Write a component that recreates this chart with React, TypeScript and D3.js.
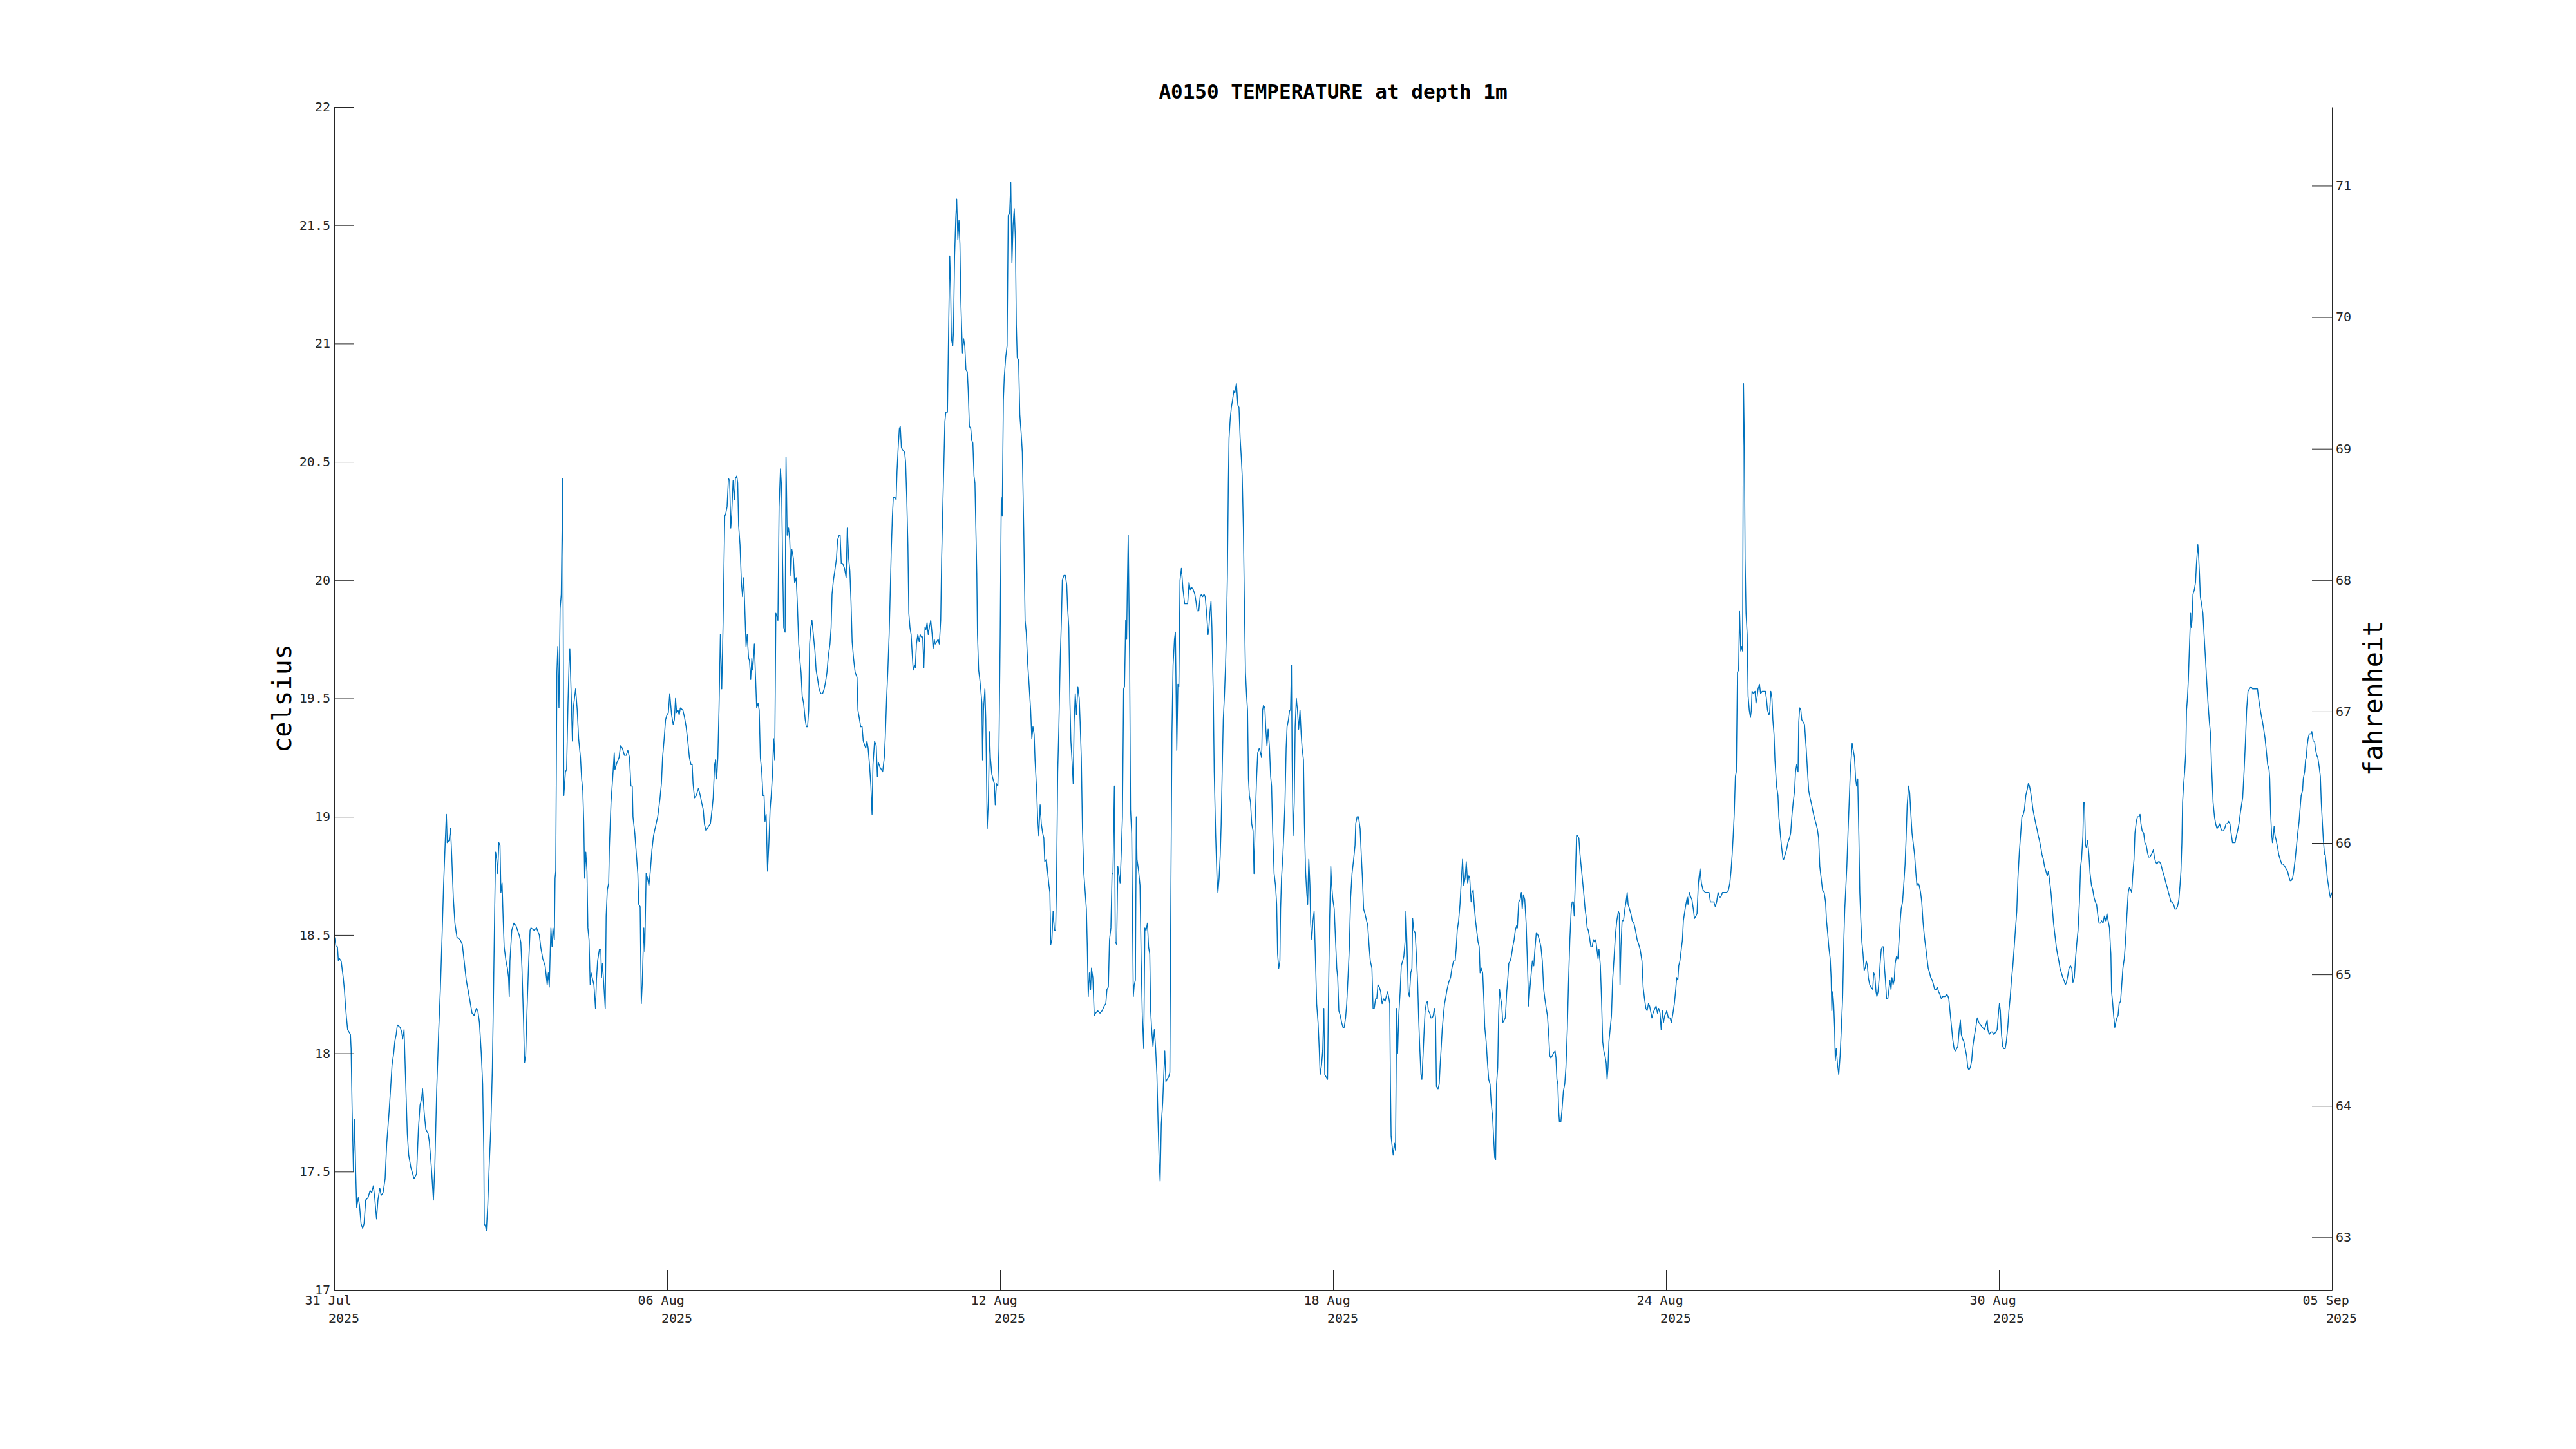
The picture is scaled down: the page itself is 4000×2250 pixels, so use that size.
import React, { useEffect, useRef } from "react";
import * as d3 from "d3";

// time axis runs from 31 Jul 2025 00:00 UTC to 05 Sep 2025 00:00 UTC
const START = Date.UTC(2025, 6, 31);
const END = Date.UTC(2025, 8, 5);

// readings: [hours since 31 Jul 00:00, temperature in celsius]
const jul31toAug03: [number, number][] = [
  [0.2,18.49],[0.8,18.45],[1.4,18.45],[1.8,18.39],[2.3,18.40],[3.0,18.39],[3.9,18.32],[4.4,18.27],[4.8,18.21],[5.3,18.15],
  [5.8,18.10],[6.4,18.09],[7.0,18.08],[7.3,18.02],[7.7,17.78],[8.3,17.50],[8.8,17.72],[9.3,17.49],[9.7,17.35],[10.4,17.39],
  [10.9,17.36],[11.6,17.28],[12.3,17.26],[12.9,17.28],[13.6,17.38],[14.6,17.39],[15.5,17.42],[16.2,17.41],[16.9,17.44],[17.5,17.39],
  [18.3,17.30],[18.9,17.38],[19.7,17.43],[20.3,17.40],[21.1,17.41],[22.0,17.47],[22.7,17.62],[23.7,17.75],[24.3,17.84],[25.0,17.95],
  [25.7,18.00],[26.2,18.05],[26.8,18.08],[27.3,18.12],[28.5,18.11],[29.2,18.09],[29.6,18.06],[30.2,18.10],[30.8,17.91],[31.6,17.66],
  [32.2,17.57],[33.1,17.52],[34.5,17.47],[35.6,17.49],[36.4,17.68],[37.1,17.78],[37.8,17.81],[38.2,17.85],[38.9,17.75],[39.6,17.68],
  [40.6,17.66],[41.1,17.63],[42.0,17.52],[42.9,17.38],[43.5,17.52],[44.3,17.84],[45.2,18.10],[45.9,18.27],[46.6,18.48],[47.3,18.71],
  [48.0,18.89],[48.5,19.01],[48.9,18.89],[49.7,18.90],[50.3,18.95],[50.8,18.84],[51.5,18.66],[52.2,18.55],[53.1,18.49],[54.5,18.48],
  [55.4,18.46],[56.2,18.39],[57.1,18.31],[58.2,18.25],[58.9,18.21],[59.6,18.17],[60.5,18.16],[61.5,18.19],[62.1,18.18],[62.8,18.13],
  [63.6,18.00],[64.2,17.87],[64.7,17.58],[64.9,17.28],[65.4,17.27],[65.8,17.25],[66.4,17.36],[67.0,17.52],[67.7,17.68],[68.4,17.94],
  [68.9,18.26],[69.4,18.61],[69.8,18.85],[70.3,18.82],[70.7,18.76],[71.2,18.89],[71.7,18.88],[72.1,18.68],[72.6,18.72],[73.1,18.56],
  [73.5,18.45],[74.3,18.39],[74.9,18.36],[75.4,18.32],[75.7,18.24],[76.0,18.39],[76.8,18.52],[77.7,18.55],[78.6,18.54],[80.0,18.50],
  [80.7,18.47],[81.2,18.36],[81.9,18.13],[82.3,17.96],[82.8,17.99],[83.3,18.16],[84.0,18.36],[84.7,18.52],[85.1,18.53],[86.5,18.52],
  [87.5,18.53],[88.7,18.50],[89.3,18.45],[90.2,18.40],[91.2,18.37],[92.1,18.29],[92.6,18.34],[93.0,18.28],[93.7,18.53],[94.2,18.45],
  [94.6,18.53],[95.2,18.48],[95.5,18.74],
];

const aug04toAug07: [number, number][] = [
  [95.8,18.77],[96.3,19.61],[96.7,19.72],[97.2,19.46],[97.7,19.88],[98.2,19.94],[98.8,20.43],[99.3,19.09],[100.0,19.19],[100.5,19.20],
  [101.1,19.48],[101.6,19.66],[101.9,19.71],[102.5,19.51],[103.0,19.32],[103.4,19.46],[104.4,19.54],[105.1,19.45],[105.7,19.33],[106.5,19.25],
  [107.0,19.16],[107.5,19.11],[107.9,18.98],[108.3,18.74],[108.8,18.85],[109.3,18.77],[109.7,18.53],[110.2,18.48],[110.7,18.29],[111.1,18.34],
  [111.8,18.31],[112.3,18.29],[113.0,18.19],[113.4,18.31],[113.9,18.39],[114.7,18.44],[115.3,18.44],[115.6,18.32],[116.0,18.38],[116.4,18.32],
  [117.2,18.19],[117.6,18.58],[118.1,18.69],[118.7,18.72],[119.0,18.87],[119.7,19.06],[120.4,19.16],[121.1,19.27],[121.4,19.20],[122.3,19.23],
  [123.2,19.25],[123.8,19.30],[124.6,19.29],[125.5,19.26],[126.3,19.26],[127.0,19.28],[127.7,19.25],[128.3,19.13],[128.9,19.13],[129.2,19.00],
  [130.0,18.93],[130.6,18.85],[131.3,18.76],[131.7,18.63],[132.3,18.62],[132.8,18.21],[133.2,18.29],[133.9,18.53],[134.3,18.43],[134.9,18.76],
  [135.5,18.74],[136.1,18.71],[136.7,18.77],[137.4,18.86],[138.1,18.92],[139.0,18.96],[139.9,19.00],[140.8,19.07],[141.5,19.14],[142.0,19.25],
  [142.7,19.33],[143.3,19.41],[143.9,19.43],[144.5,19.44],[145.1,19.52],[145.9,19.43],[146.6,19.39],[147.1,19.41],[147.6,19.50],[148.1,19.44],
  [148.7,19.45],[149.2,19.43],[149.7,19.46],[150.8,19.45],[151.5,19.42],[152.2,19.38],[152.9,19.32],[153.6,19.25],[154.3,19.22],[154.8,19.22],
  [155.2,19.14],[155.8,19.08],[156.6,19.09],[157.5,19.12],[158.3,19.09],[158.9,19.06],[159.6,19.03],[160.1,18.97],[160.8,18.94],[161.9,18.96],
  [162.7,18.97],[163.4,19.03],[163.9,19.08],[164.5,19.22],[165.0,19.24],[165.4,19.16],[165.9,19.25],[166.4,19.45],[167.0,19.77],[167.6,19.54],
  [168.2,19.83],[168.9,20.27],[169.3,20.28],[169.9,20.31],[170.5,20.43],[171.0,20.42],[171.5,20.22],[171.9,20.28],[172.5,20.42],[173.1,20.34],
  [173.5,20.43],[174.1,20.44],[174.5,20.41],[174.9,20.23],[175.5,20.15],[176.1,19.99],[176.6,19.93],[177.1,20.01],[177.5,19.90],[178.1,19.72],
  [178.6,19.77],[179.2,19.67],[179.6,19.66],[180.1,19.58],[180.6,19.67],[181.0,19.62],[181.7,19.73],[182.1,19.62],[182.7,19.46],[183.3,19.48],
  [183.8,19.45],[184.3,19.25],[184.9,19.19],[185.4,19.09],[185.9,19.09],[186.3,18.98],[186.8,19.01],[187.4,18.77],[188.0,18.89],[188.5,19.03],
  [189.0,19.09],[189.6,19.19],[190.0,19.33],[190.5,19.24],[191.0,19.86],[191.4,19.85],[191.9,19.83],
];

const aug08toAug11: [number, number][] = [
  [192.4,20.31],[193.0,20.47],[193.5,20.39],[193.9,20.09],[194.4,19.80],[195.0,19.78],[195.4,20.52],[195.9,20.19],[196.5,20.22],[197.0,20.17],
  [197.5,20.02],[197.9,20.13],[198.6,20.09],[199.1,19.99],[199.8,20.01],[200.3,19.90],[200.9,19.73],[201.5,19.65],[201.9,19.61],[202.4,19.51],
  [203.0,19.48],[203.7,19.41],[204.2,19.38],[204.7,19.38],[205.2,19.45],[205.6,19.73],[206.1,19.80],[206.6,19.83],[207.2,19.77],[207.9,19.70],
  [208.4,19.62],[209.1,19.58],[209.7,19.54],[210.5,19.52],[211.2,19.52],[211.9,19.54],[212.5,19.57],[213.1,19.61],[213.7,19.68],[214.4,19.73],
  [214.9,19.80],[215.3,19.94],[215.9,20.00],[216.5,20.04],[217.2,20.09],[217.7,20.17],[218.4,20.19],[218.8,20.19],[219.3,20.07],[219.9,20.07],
  [220.7,20.05],[221.4,20.01],[221.9,20.22],[222.5,20.09],[223.0,20.04],[223.5,19.91],[224.0,19.74],[224.6,19.67],[225.3,19.61],[226.1,19.59],
  [226.5,19.45],[227.2,19.41],[227.7,19.38],[228.3,19.38],[228.8,19.32],[229.5,19.30],[229.9,19.29],[230.4,19.32],[230.9,19.29],[231.5,19.22],
  [232.1,19.13],[232.6,19.01],[233.0,19.22],[233.7,19.32],[234.4,19.30],[234.9,19.17],[235.3,19.23],[236.0,19.21],[236.6,19.20],[237.2,19.19],
  [237.9,19.25],[238.3,19.33],[238.9,19.50],[239.4,19.61],[240.0,19.77],[240.5,19.96],[240.9,20.12],[241.4,20.27],[241.8,20.35],[242.5,20.35],
  [243.0,20.34],[243.4,20.46],[243.9,20.56],[244.4,20.64],[244.8,20.65],[245.3,20.56],[245.9,20.55],[246.7,20.54],[247.1,20.50],[247.6,20.35],
  [248.1,20.15],[248.5,19.86],[249.0,19.80],[249.5,19.77],[249.9,19.70],[250.4,19.62],[250.9,19.64],[251.3,19.63],[251.8,19.73],[252.4,19.77],
  [253.0,19.74],[253.4,19.77],[253.9,19.76],[254.5,19.76],[255.0,19.63],[255.5,19.80],[255.9,19.79],[256.4,19.82],[256.9,19.77],[257.4,19.80],
  [258.0,19.83],[258.6,19.77],[259.0,19.71],[259.5,19.75],[259.9,19.73],[260.6,19.74],[261.2,19.75],[261.7,19.73],[262.3,19.83],[262.7,20.09],
  [263.2,20.31],[263.7,20.51],[264.1,20.67],[264.5,20.71],[265.2,20.71],[265.7,21.05],[266.2,21.37],[266.6,21.23],[266.9,21.02],[267.5,20.99],
  [267.8,21.05],[268.3,21.37],[268.8,21.53],[269.2,21.61],[269.7,21.44],[270.2,21.52],[270.6,21.42],[271.0,21.18],[271.4,21.05],[271.7,20.96],
  [272.2,21.02],[272.7,20.99],[273.2,20.89],[273.8,20.88],[274.2,20.80],[274.7,20.65],[275.3,20.64],[275.7,20.59],[276.2,20.58],[276.7,20.44],
  [277.1,20.41],[277.5,20.22],[277.9,20.03],[278.2,19.77],[278.7,19.62],[279.2,19.58],[279.6,19.54],[280.1,19.48],[280.4,19.24],[280.8,19.45],
  [281.4,19.54],[281.8,19.41],[282.1,19.19],[282.4,18.95],[282.9,19.06],[283.4,19.36],[283.8,19.25],[284.4,19.18],[284.9,19.16],[285.5,19.14],
  [285.9,19.05],[286.4,19.14],[287.0,19.13],[287.5,19.29],[288.0,19.74],
];

const aug12toAug15: [number, number][] = [
  [288.5,20.35],[288.9,20.27],[289.4,20.76],[289.8,20.86],[290.4,20.94],[291.0,20.99],[291.5,21.54],[292.1,21.55],[292.6,21.68],[293.1,21.34],
  [293.6,21.50],[294.1,21.57],[294.6,21.44],[295.0,21.08],[295.4,20.94],[296.0,20.93],[296.5,20.70],[297.1,20.62],[297.6,20.54],[298.2,20.22],
  [298.8,19.83],[299.3,19.78],[299.9,19.65],[300.5,19.56],[301.2,19.45],[301.7,19.33],[302.2,19.38],[302.7,19.35],[303.1,19.24],[303.8,19.11],
  [304.2,19.00],[304.7,18.92],[305.3,19.05],[305.8,18.97],[306.4,18.93],[306.9,18.91],[307.3,18.81],[308.0,18.82],[308.5,18.77],[309.1,18.71],
  [309.5,18.68],[309.9,18.46],[310.4,18.48],[310.9,18.60],[311.5,18.52],[312.0,18.52],[312.4,18.72],[312.9,19.19],[313.4,19.38],[314.0,19.67],
  [314.5,19.83],[314.9,20.00],[315.6,20.02],[316.2,20.02],[316.8,19.98],[317.2,19.88],[317.7,19.80],[318.2,19.48],[318.6,19.32],[319.2,19.22],
  [319.6,19.14],[320.0,19.40],[320.5,19.52],[321.0,19.43],[321.6,19.55],[322.2,19.50],[322.6,19.40],[323.1,19.25],[323.6,18.95],[324.2,18.76],
  [324.8,18.68],[325.3,18.61],[325.7,18.45],[326.1,18.24],[326.6,18.34],[327.1,18.27],[327.5,18.36],[328.1,18.32],[328.7,18.16],[329.3,18.17],
  [330.2,18.18],[331.2,18.17],[332.1,18.18],[333.0,18.20],[333.7,18.21],[334.2,18.27],[334.8,18.28],[335.3,18.48],[335.9,18.53],[336.4,18.76],
  [336.8,18.76],[337.4,19.13],[337.8,18.47],[338.4,18.46],[338.9,18.79],[339.3,18.76],[339.9,18.72],[340.4,18.85],[340.9,19.00],[341.4,19.54],
  [341.8,19.55],[342.3,19.83],[342.7,19.75],[343.0,19.96],[343.4,20.19],[344.0,19.67],[344.4,19.03],[344.9,18.93],[345.3,18.53],[345.6,18.24],
  [346.0,18.29],[346.5,18.31],[346.9,19.00],[347.2,18.82],[347.9,18.77],[348.5,18.71],[349.0,18.39],[349.5,18.16],[350.1,18.02],[350.6,18.53],
  [351.1,18.52],[351.7,18.55],[352.2,18.45],[352.7,18.42],[353.1,18.18],[353.6,18.09],[354.1,18.03],[354.7,18.10],[355.2,18.03],[355.8,17.91],
  [356.3,17.71],[356.8,17.54],[357.2,17.46],[357.7,17.70],[358.3,17.79],[358.7,17.89],[359.2,18.01],[359.7,17.88],[360.2,17.89],[360.9,17.90],
  [361.4,17.92],[361.8,18.61],[362.3,19.35],[362.8,19.64],[363.4,19.75],[363.8,19.78],[364.4,19.28],[364.9,19.56],[365.3,19.55],[365.8,20.00],
  [366.4,20.05],[367.1,19.96],[367.8,19.90],[368.6,19.90],[369.1,19.90],[369.7,19.99],[370.2,19.96],[370.8,19.97],[371.5,19.96],[372.2,19.94],
  [372.7,19.91],[373.2,19.87],[373.9,19.87],[374.5,19.93],[375.1,19.94],[375.6,19.93],[376.2,19.94],[376.7,19.93],[377.3,19.86],[377.9,19.77],
  [378.3,19.80],[378.8,19.87],[379.2,19.91],[379.6,19.80],[380.2,19.51],[380.6,19.19],[381.2,18.93],[381.8,18.74],[382.2,18.68],[382.7,18.74],
  [383.2,18.84],[383.6,18.97],[384.1,19.22],
];

const aug16toAug19: [number, number][] = [
  [384.5,19.41],[385.0,19.51],[385.5,19.64],[385.9,19.80],[386.3,20.03],[386.7,20.41],[387.0,20.60],[387.5,20.68],[388.0,20.73],[388.5,20.76],
  [389.1,20.80],[389.5,20.79],[389.8,20.81],[390.2,20.83],[390.8,20.74],[391.3,20.73],[391.8,20.60],[392.3,20.52],[392.7,20.44],[393.2,20.22],
  [393.6,19.93],[394.1,19.61],[394.6,19.51],[395.0,19.45],[395.4,19.16],[395.8,19.09],[396.3,19.06],[396.8,18.97],[397.4,18.94],[397.8,18.76],
  [398.3,18.98],[398.9,19.16],[399.4,19.27],[400.1,19.29],[400.6,19.27],[401.1,19.25],[401.5,19.45],[401.9,19.47],[402.5,19.46],[402.9,19.37],
  [403.4,19.30],[403.9,19.37],[404.5,19.29],[405.0,19.17],[405.4,19.13],[405.9,18.93],[406.5,18.76],[407.1,18.71],[407.6,18.63],[408.0,18.42],
  [408.5,18.36],[409.0,18.39],[409.3,18.61],[409.7,18.74],[410.3,18.84],[410.7,18.93],[411.2,19.06],[411.7,19.29],[412.1,19.38],[412.7,19.41],
  [413.2,19.45],[413.6,19.45],[414.0,19.64],[414.3,19.24],[414.7,18.92],[415.2,19.06],[415.6,19.38],[416.1,19.50],[416.6,19.45],[417.1,19.37],
  [417.7,19.45],[418.2,19.35],[418.6,19.29],[419.2,19.24],[419.6,18.97],[420.1,18.77],[420.6,18.68],[421.0,18.63],[421.5,18.82],[422.0,18.71],
  [422.3,18.55],[422.8,18.48],[423.3,18.56],[423.8,18.60],[424.4,18.39],[424.9,18.21],[425.5,18.13],[426.0,18.02],[426.4,17.91],[427.0,17.95],
  [427.5,18.01],[428.0,18.19],[428.4,17.91],[429.0,17.90],[429.6,17.89],[430.0,18.23],[430.5,18.56],[431.0,18.79],[431.4,18.71],[431.9,18.65],
  [432.5,18.61],[433.1,18.47],[433.6,18.36],[434.0,18.32],[434.5,18.18],[435.1,18.16],[435.7,18.13],[436.3,18.11],[436.8,18.11],[437.4,18.15],
  [437.9,18.21],[438.5,18.33],[439.0,18.44],[439.6,18.66],[440.2,18.76],[440.9,18.82],[441.5,18.88],[441.8,18.97],[442.4,19.00],[443.0,19.00],
  [443.7,18.95],[444.2,18.84],[444.7,18.74],[445.2,18.61],[445.8,18.59],[446.5,18.56],[447.0,18.54],[447.6,18.45],[448.1,18.39],[448.8,18.36],
  [449.3,18.19],[449.8,18.19],[450.4,18.23],[450.9,18.23],[451.4,18.29],[452.0,18.28],[452.6,18.26],[453.2,18.21],[453.9,18.23],[454.5,18.22],
  [455.0,18.24],[455.6,18.26],[456.0,18.24],[456.5,18.21],[456.8,17.87],[457.1,17.65],[457.4,17.62],[458.0,17.57],[458.5,17.62],[459.0,17.59],
  [459.5,18.19],[459.9,18.00],[460.4,18.16],[461.0,18.26],[461.5,18.37],[462.1,18.39],[462.6,18.41],[463.2,18.48],[463.5,18.60],[463.9,18.48],
  [464.5,18.26],[465.0,18.24],[465.6,18.34],[466.1,18.36],[466.4,18.57],[466.9,18.52],[467.5,18.51],[468.0,18.42],[468.6,18.29],[469.0,18.15],
  [469.5,18.02],[470.0,17.91],[470.4,17.89],[470.9,17.99],[471.4,18.10],[471.8,18.18],[472.3,18.21],[472.8,18.22],[473.2,18.18],[473.8,18.17],
  [474.3,18.15],[474.9,18.15],[475.3,18.16],[475.8,18.19],[476.3,18.15],[476.7,17.86],[477.4,17.85],[477.9,17.87],[478.3,17.95],[478.8,18.03],
  [479.2,18.10],[479.7,18.16],[480.2,18.21],
];

const aug20toAug23: [number, number][] = [
  [480.6,18.23],[481.3,18.27],[482.0,18.30],[482.8,18.32],[483.4,18.36],[484.1,18.39],[484.8,18.39],[485.3,18.45],[485.7,18.52],[486.3,18.56],
  [486.9,18.63],[487.4,18.72],[488.0,18.82],[488.5,18.71],[489.1,18.74],[489.6,18.81],[490.2,18.72],[490.7,18.75],[491.1,18.74],[491.7,18.64],
  [492.1,18.68],[492.6,18.69],[493.0,18.63],[493.6,18.56],[494.1,18.52],[494.7,18.47],[495.2,18.45],[495.6,18.34],[496.1,18.36],[496.7,18.34],
  [497.2,18.23],[497.6,18.11],[498.2,18.05],[498.7,17.97],[499.3,17.89],[499.9,17.87],[500.4,17.79],[501.0,17.73],[501.5,17.63],[501.9,17.56],
  [502.3,17.55],[502.7,17.87],[503.2,17.94],[503.6,18.16],[504.0,18.27],[504.5,18.23],[504.9,18.21],[505.4,18.13],[506.0,18.14],[506.5,18.15],
  [507.1,18.26],[507.6,18.32],[508.0,18.38],[508.6,18.39],[509.1,18.41],[509.7,18.45],[510.3,18.48],[510.8,18.52],[511.4,18.54],[511.7,18.53],
  [512.3,18.64],[512.9,18.65],[513.4,18.68],[513.8,18.61],[514.3,18.67],[514.9,18.65],[515.5,18.55],[516.0,18.40],[516.6,18.20],[517.1,18.27],
  [517.8,18.35],[518.2,18.39],[518.8,18.37],[519.3,18.44],[519.9,18.51],[520.6,18.50],[521.2,18.48],[521.9,18.45],[522.5,18.39],[523.1,18.27],
  [523.6,18.23],[524.2,18.19],[524.7,18.16],[525.3,18.07],[525.7,17.99],[526.2,17.98],[526.8,17.99],[527.3,18.00],[528.0,18.01],[528.4,17.98],
  [528.8,17.89],[529.2,17.87],[529.6,17.75],[529.9,17.71],[530.5,17.71],[531.0,17.76],[531.6,17.84],[532.2,17.87],[532.7,17.94],[533.3,18.10],
  [533.8,18.29],[534.4,18.48],[535.0,18.61],[535.4,18.64],[535.9,18.64],[536.3,18.58],[536.8,18.74],[537.3,18.92],[537.7,18.92],[538.3,18.91],
  [538.8,18.84],[539.2,18.80],[539.8,18.74],[540.3,18.69],[541.0,18.61],[541.4,18.58],[541.9,18.53],[542.4,18.52],[542.9,18.49],[543.5,18.45],
  [544.0,18.45],[544.6,18.48],[545.2,18.47],[545.6,18.48],[546.1,18.44],[546.6,18.40],[547.0,18.44],[547.6,18.37],[548.1,18.23],[548.6,18.05],
  [549.1,18.01],[549.6,17.99],[550.1,17.96],[550.5,17.89],[550.9,17.94],[551.3,18.05],[551.8,18.10],[552.4,18.16],[552.9,18.31],[553.5,18.40],
  [554.1,18.50],[554.7,18.56],[555.4,18.60],[555.8,18.59],[556.1,18.29],[556.5,18.45],[557.0,18.56],[557.6,18.56],[558.2,18.61],[558.7,18.64],
  [559.2,18.68],[559.6,18.63],[560.2,18.61],[560.8,18.59],[561.4,18.56],[562.1,18.55],[562.8,18.52],[563.5,18.48],[564.2,18.46],[564.8,18.44],
  [565.6,18.39],[566.1,18.28],[566.7,18.23],[567.3,18.19],[567.8,18.18],[568.4,18.21],[568.9,18.20],[569.5,18.17],[569.9,18.15],[570.4,18.17],
  [571.2,18.19],[571.7,18.20],[572.3,18.17],[572.8,18.19],[573.4,18.17],[573.9,18.10],[574.4,18.18],[574.9,18.13],[575.4,18.16],[576.0,18.17],
  [576.3,18.18],
];

const aug24toAug27: [number, number][] = [
  [577.0,18.15],[577.7,18.15],[578.3,18.13],[579.0,18.17],[579.6,18.21],[580.2,18.27],[580.6,18.32],[581.1,18.31],[581.5,18.37],[582.0,18.39],
  [582.6,18.44],[583.1,18.48],[583.5,18.56],[584.1,18.60],[584.6,18.63],[585.2,18.66],[585.5,18.63],[586.1,18.68],[586.7,18.66],[587.2,18.65],
  [587.8,18.61],[588.3,18.57],[588.9,18.58],[589.4,18.59],[590.0,18.72],[590.7,18.78],[591.3,18.72],[592.0,18.69],[593.0,18.68],[593.9,18.68],
  [594.6,18.68],[595.2,18.64],[596.0,18.64],[596.7,18.64],[597.3,18.62],[597.9,18.64],[598.5,18.68],[599.1,18.66],[599.7,18.66],[600.4,18.68],
  [601.3,18.68],[602.2,18.68],[603.0,18.69],[603.6,18.72],[604.1,18.77],[604.6,18.84],[605.0,18.91],[605.5,19.01],[606.0,19.17],[606.4,19.19],
  [606.9,19.61],[607.4,19.62],[607.8,19.87],[608.3,19.70],[608.8,19.72],[609.1,19.70],[609.5,20.83],[609.9,20.57],[610.2,20.09],[610.6,19.86],
  [611.1,19.77],[611.5,19.51],[612.0,19.45],[612.5,19.42],[612.9,19.45],[613.2,19.53],[613.8,19.52],[614.5,19.53],[614.9,19.48],[615.3,19.50],
  [615.8,19.54],[616.4,19.56],[616.9,19.52],[617.6,19.53],[618.0,19.53],[618.5,19.53],[619.0,19.53],[619.4,19.50],[619.9,19.45],[620.5,19.43],
  [620.8,19.44],[621.3,19.53],[621.8,19.50],[622.2,19.41],[622.7,19.35],[623.1,19.24],[623.8,19.13],[624.4,19.09],[624.8,19.00],[625.5,18.92],
  [626.0,18.87],[626.6,18.82],[626.9,18.82],[627.5,18.84],[628.1,18.86],[628.7,18.89],[629.4,18.91],[629.9,18.93],[630.5,19.01],[631.0,19.06],
  [631.6,19.11],[632.0,19.19],[632.5,19.22],[633.1,19.19],[633.4,19.40],[633.8,19.46],[634.3,19.45],[634.7,19.41],[635.3,19.40],[635.9,19.39],
  [636.6,19.29],[637.2,19.19],[637.7,19.11],[638.3,19.08],[639.0,19.05],[639.6,19.02],[640.3,18.99],[640.9,18.97],[641.4,18.95],[642.0,18.91],
  [642.5,18.79],[643.1,18.74],[643.7,18.69],[644.4,18.68],[645.0,18.64],[645.4,18.56],[645.9,18.51],[646.4,18.45],[647.0,18.40],[647.4,18.32],
  [647.7,18.18],[648.1,18.26],[648.5,18.21],[648.9,18.11],[649.2,17.97],[649.6,18.02],[650.2,17.95],[650.7,17.91],[651.3,17.99],[651.8,18.10],
  [652.4,18.24],[652.9,18.48],[653.3,18.61],[653.8,18.71],[654.2,18.79],[654.7,18.93],[655.2,19.06],[655.7,19.19],[656.1,19.25],[656.5,19.31],
  [657.0,19.28],[657.5,19.25],[658.0,19.16],[658.4,19.13],[658.9,19.16],[659.4,18.92],[659.8,18.68],[660.3,18.55],[660.7,18.47],[661.2,18.42],
  [661.7,18.35],[662.1,18.36],[662.6,18.39],[663.1,18.37],[663.5,18.32],[664.1,18.29],[664.6,18.28],[665.4,18.27],[665.8,18.34],[666.3,18.33],
  [666.8,18.26],[667.2,18.24],[667.7,18.26],[668.2,18.32],[668.6,18.38],[669.1,18.44],[669.6,18.45],[670.0,18.45],[670.5,18.36],[670.9,18.31],
  [671.4,18.23],[671.9,18.23],[672.3,18.26],
];

const aug28toAug31: [number, number][] = [
  [672.8,18.31],[673.3,18.27],[673.7,18.32],[674.2,18.29],[674.7,18.31],[675.1,18.38],[675.7,18.41],[676.3,18.40],[676.8,18.48],[677.3,18.56],
  [677.7,18.61],[678.3,18.64],[678.8,18.71],[679.4,18.80],[679.8,18.90],[680.3,19.05],[680.9,19.13],[681.4,19.10],[681.9,19.01],[682.4,18.93],
  [682.9,18.89],[683.5,18.84],[684.0,18.77],[684.5,18.71],[685.0,18.72],[685.5,18.71],[686.1,18.68],[686.6,18.64],[687.2,18.55],[687.8,18.49],
  [688.3,18.45],[688.9,18.40],[689.4,18.36],[690.0,18.34],[690.5,18.32],[691.1,18.31],[691.7,18.29],[692.2,18.27],[692.8,18.27],[693.3,18.28],
  [693.9,18.26],[694.4,18.25],[695.1,18.23],[695.7,18.24],[696.7,18.24],[697.4,18.25],[698.0,18.24],[698.3,18.23],[698.9,18.17],[699.5,18.11],
  [700.0,18.06],[700.6,18.02],[701.1,18.01],[701.7,18.02],[702.2,18.03],[702.8,18.10],[703.3,18.14],[703.7,18.08],[704.3,18.06],[704.8,18.05],
  [705.4,18.02],[706.0,17.99],[706.5,17.94],[707.0,17.93],[707.6,17.94],[708.2,17.97],[708.7,18.03],[709.3,18.07],[710.0,18.11],[710.6,18.15],
  [711.3,18.13],[712.1,18.12],[712.8,18.11],[713.7,18.10],[714.3,18.12],[714.9,18.14],[715.2,18.10],[715.8,18.08],[716.4,18.09],[717.1,18.09],
  [717.8,18.08],[718.6,18.09],[719.2,18.10],[719.7,18.16],[720.2,18.21],[720.6,18.18],[721.1,18.08],[721.6,18.03],[722.1,18.02],[722.7,18.02],
  [723.2,18.05],[723.8,18.11],[724.3,18.18],[724.9,18.24],[725.4,18.31],[726.0,18.37],[726.6,18.45],[727.1,18.52],[727.7,18.60],[728.2,18.74],
  [728.8,18.85],[729.4,18.93],[729.9,19.00],[730.5,19.01],[731.0,19.03],[731.6,19.09],[732.1,19.11],[732.7,19.14],[733.2,19.13],[733.6,19.11],
  [734.2,19.07],[734.7,19.03],[735.3,19.00],[735.9,18.97],[736.4,18.95],[737.0,18.92],[737.5,18.90],[738.1,18.87],[738.6,18.84],[739.2,18.82],
  [739.7,18.79],[740.3,18.77],[740.9,18.75],[741.4,18.77],[742.0,18.72],[742.5,18.68],[743.1,18.61],[743.6,18.55],[744.2,18.50],[744.8,18.45],
  [745.3,18.42],[745.9,18.39],[746.4,18.36],[747.0,18.34],[747.6,18.32],[748.1,18.31],[748.7,18.29],[749.2,18.30],[749.8,18.33],[750.3,18.36],
  [750.9,18.37],[751.5,18.36],[752.0,18.30],[752.6,18.32],[753.1,18.40],[753.7,18.47],[754.2,18.52],[754.8,18.64],[755.3,18.79],[755.7,18.82],
  [756.3,18.92],[756.6,19.06],[757.0,19.06],[757.4,18.88],[757.8,18.87],[758.3,18.90],[758.9,18.84],[759.4,18.76],[760.0,18.71],[760.6,18.69],
  [761.1,18.66],[761.7,18.64],[762.2,18.63],[762.8,18.58],[763.3,18.55],[763.9,18.55],[764.4,18.56],[765.0,18.55],[765.6,18.58],[766.1,18.56],
  [766.7,18.59],[767.2,18.56],[767.8,18.53],[768.2,18.45],
];

const sep01toSep04: [number, number][] = [
  [768.4,18.42],[768.7,18.26],[769.2,18.21],[769.6,18.16],[770.1,18.11],[770.5,18.13],[771.0,18.15],[771.5,18.16],[772.0,18.21],[772.6,18.22],
  [773.1,18.29],[773.6,18.36],[774.2,18.40],[774.7,18.47],[775.3,18.58],[775.9,18.68],[776.4,18.70],[777.0,18.69],[777.4,18.68],[777.9,18.76],
  [778.4,18.82],[778.8,18.93],[779.4,18.98],[779.9,19.00],[780.5,19.00],[781.0,19.01],[781.4,18.97],[781.9,18.94],[782.6,18.93],[783.1,18.89],
  [783.7,18.88],[784.2,18.85],[784.7,18.83],[785.3,18.83],[785.9,18.84],[786.4,18.85],[786.8,18.86],[787.2,18.83],[787.7,18.81],[788.3,18.80],
  [788.9,18.81],[789.4,18.81],[790.0,18.80],[790.5,18.78],[791.1,18.76],[791.7,18.74],[792.2,18.72],[792.8,18.70],[793.3,18.68],[793.9,18.66],
  [794.4,18.64],[795.0,18.64],[795.5,18.63],[796.1,18.61],[796.7,18.61],[797.2,18.62],[797.8,18.65],[798.3,18.71],[798.7,18.77],[799.1,18.89],
  [799.4,19.06],[799.8,19.13],[800.3,19.19],[800.8,19.27],[801.1,19.45],[801.5,19.50],[801.9,19.58],[802.2,19.67],[802.6,19.78],[802.9,19.86],
  [803.2,19.80],[803.5,19.83],[803.9,19.94],[804.5,19.96],[805.0,19.99],[805.4,20.07],[805.8,20.12],[806.0,20.15],[806.3,20.11],[806.7,20.03],
  [807.1,19.93],[807.6,19.90],[808.2,19.86],[808.7,19.77],[809.3,19.67],[809.8,19.58],[810.4,19.48],[811.0,19.40],[811.5,19.35],[811.9,19.22],
  [812.3,19.13],[812.6,19.06],[813.2,19.00],[813.7,18.97],[814.3,18.95],[814.9,18.96],[815.4,18.97],[816.0,18.95],[816.5,18.94],[817.1,18.94],
  [817.6,18.95],[818.2,18.97],[818.8,18.97],[819.3,18.98],[819.9,18.97],[820.4,18.93],[821.0,18.89],[821.5,18.89],[822.1,18.89],[822.7,18.92],
  [823.2,18.94],[823.8,18.97],[824.3,19.01],[824.9,19.05],[825.4,19.08],[826.0,19.19],[826.6,19.32],[827.1,19.45],[827.7,19.53],[828.3,19.54],
  [829.0,19.55],[829.7,19.54],[830.5,19.54],[831.2,19.54],[831.8,19.54],[832.3,19.50],[832.9,19.46],[833.4,19.43],[834.0,19.40],[834.5,19.37],
  [835.1,19.33],[835.7,19.27],[836.2,19.22],[836.8,19.20],[837.1,19.16],[837.5,19.01],[837.9,18.93],[838.3,18.89],[838.6,18.91],[839.0,18.96],
  [839.4,18.92],[839.9,18.90],[840.5,18.87],[841.0,18.84],[841.6,18.82],[842.3,18.80],[842.9,18.80],[843.6,18.79],[844.2,18.78],[844.8,18.77],
  [845.3,18.75],[845.9,18.73],[846.4,18.73],[847.0,18.74],[847.5,18.77],[848.1,18.82],[848.7,18.88],[849.2,18.93],[849.8,18.98],[850.1,19.02],
  [850.7,19.09],[851.3,19.11],[851.6,19.16],[852.2,19.19],[852.6,19.24],[852.9,19.25],[853.3,19.30],[853.7,19.33],[854.2,19.35],[854.8,19.35],
  [855.3,19.36],[855.9,19.32],[856.5,19.32],[856.8,19.29],[857.4,19.26],[857.9,19.25],[858.5,19.21],[859.0,19.17],[859.4,19.06],[859.9,18.97],
  [860.3,18.90],[860.8,18.84],[861.1,18.84],[861.6,18.79],[862.0,18.74],[862.5,18.71],[862.9,18.68],[863.3,18.66],[863.7,18.67],[864.0,18.68],
];

const celsiusTicks = [17, 17.5, 18, 18.5, 19, 19.5, 20, 20.5, 21, 21.5, 22];
const fahrenheitTicks = [63, 64, 65, 66, 67, 68, 69, 70, 71];
const dateTickDays = [0, 6, 12, 18, 24, 30, 36];

const title = "A0150 TEMPERATURE at depth 1m";
const leftLabel = "celsius";
const rightLabel = "fahrenheit";

const W = 4000;
const H = 2250;
const plot = { left: 519, right: 3621, top: 166, bottom: 2003 };
const FONT = "'DejaVu Sans Mono', monospace";
const AXIS_COLOR = "#262626";

export default function App() {
  const ref = useRef<SVGSVGElement>(null);

  useEffect(() => {
    const svg = d3.select(ref.current);
    svg.selectAll("*").remove();

    const readings = [
      ...jul31toAug03, ...aug04toAug07, ...aug08toAug11, ...aug12toAug15, ...aug16toAug19,
      ...aug20toAug23, ...aug24toAug27, ...aug28toAug31, ...sep01toSep04,
    ];

    const x = d3.scaleUtc().domain([new Date(START), new Date(END)]).range([plot.left, plot.right]);
    const y = d3.scaleLinear().domain([17, 22]).range([plot.bottom, plot.top]);
    const yF = d3.scaleLinear().domain([17 * 1.8 + 32, 22 * 1.8 + 32]).range([plot.bottom, plot.top]);

    svg.append("rect").attr("width", W).attr("height", H).attr("fill", "#fff");

    // temperature line
    const line = d3.line<[number, number]>()
      .x(d => x(new Date(START + d[0] * 3600 * 1000)))
      .y(d => y(d[1]));
    svg.append("path")
      .datum(readings)
      .attr("fill", "none")
      .attr("stroke", "#0072BD")
      .attr("stroke-width", 1.5)
      .attr("stroke-linejoin", "round")
      .attr("d", line);

    // left axis (celsius)
    const gl = svg.append("g")
      .attr("transform", `translate(${plot.left},0)`)
      .call(d3.axisLeft(y).tickValues(celsiusTicks).tickSize(-31).tickSizeOuter(0).tickPadding(6)
        .tickFormat(d => String(d)));

    // right axis (fahrenheit)
    const gr = svg.append("g")
      .attr("transform", `translate(${plot.right},0)`)
      .call(d3.axisRight(yF).tickValues(fahrenheitTicks).tickSize(-31).tickSizeOuter(0).tickPadding(6)
        .tickFormat(d => String(d)));

    // bottom axis, two-line date labels
    const dateTicks = dateTickDays.map(n => d3.utcDay.offset(new Date(START), n));
    const fmtDay = d3.utcFormat("%d %b");
    const fmtYear = d3.utcFormat("%Y");
    const gb = svg.append("g")
      .attr("transform", `translate(0,${plot.bottom})`)
      .call(d3.axisBottom(x).tickValues(dateTicks).tickSize(-31).tickSizeOuter(0).tickFormat(() => ""));
    gb.selectAll<SVGGElement, Date>(".tick").each(function (d) {
      const t = d3.select(this);
      t.select("text").remove();
      t.append("text").attr("x", -46).attr("y", 23).attr("text-anchor", "start").attr("fill", AXIS_COLOR).text(fmtDay(d));
      t.append("text").attr("x", -9.5).attr("y", 51).attr("text-anchor", "start").attr("fill", AXIS_COLOR).text(fmtYear(d));
    });

    [gl, gr, gb].forEach(g => {
      g.attr("font-family", FONT).attr("font-size", 20);
      g.selectAll("path, line").attr("stroke", AXIS_COLOR).attr("stroke-width", 1);
      g.selectAll("text").attr("fill", AXIS_COLOR);
    });

    svg.append("text")
      .attr("x", (plot.left + plot.right) / 2)
      .attr("y", 153)
      .attr("text-anchor", "middle")
      .attr("font-family", FONT)
      .attr("font-weight", "bold")
      .attr("font-size", 31)
      .attr("fill", "#000")
      .text(title);

    svg.append("text")
      .attr("transform", `translate(452,${(plot.top + plot.bottom) / 2}) rotate(-90)`)
      .attr("text-anchor", "middle")
      .attr("font-family", FONT)
      .attr("font-size", 40)
      .attr("fill", "#000")
      .text(leftLabel);

    svg.append("text")
      .attr("transform", `translate(3699,${(plot.top + plot.bottom) / 2}) rotate(-90)`)
      .attr("text-anchor", "middle")
      .attr("font-family", FONT)
      .attr("font-size", 40)
      .attr("fill", "#000")
      .text(rightLabel);
  }, []);

  return (
    <svg
      ref={ref}
      width={W}
      height={H}
      style={{ position: "absolute", left: 0, top: 0, display: "block" }}
    />
  );
}
